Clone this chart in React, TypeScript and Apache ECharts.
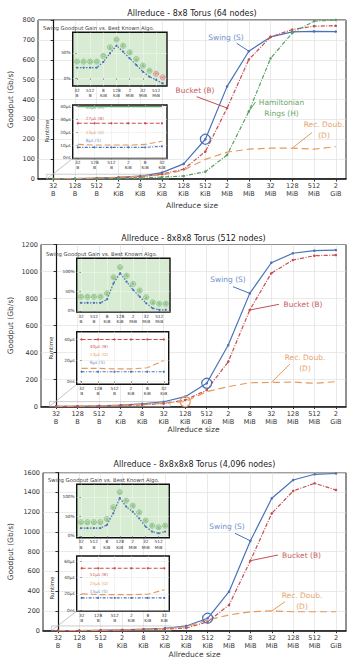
import React, { useEffect, useRef } from "react";
import * as echarts from "echarts";

const FONT = "DejaVu Sans";

// ---------- axis labels ----------
const sizeLabels = ["32\nB", "128\nB", "512\nB", "2\nKiB", "8\nKiB", "32\nKiB", "128\nKiB", "512\nKiB", "2\nMiB", "8\nMiB", "32\nMiB", "128\nMiB", "512\nMiB", "2\nGiB"];
const sizeTicks = sizeLabels.map((_, i) => i);
const gainLabels = ["32\nB", "512\nB", "8\nKiB", "128\nKiB", "2\nMiB", "32\nMiB", "512\nMiB"];
const gainTicks = [0, 2, 4, 6, 8, 10, 12];
const rtLabels = ["32\nB", "128\nB", "512\nB", "2\nKiB", "8\nKiB", "32\nKiB"];
const rtTicks = [0, 1, 2, 3, 4, 5];

const titles = [
  "Allreduce - 8x8 Torus (64 nodes)",
  "Allreduce - 8x8x8 Torus (512 nodes)",
  "Allreduce - 8x8x8x8 Torus (4,096 nodes)",
];

// ---------- 64 nodes ----------
const swing64 = [0.4, 1.5, 4, 8, 14, 32, 76, 200, 466, 643, 715, 740, 743, 742];
const bucket64 = [0.3, 1, 3, 6, 10, 25, 49, 138, 357, 601, 715, 752, 769, 771];
const hamilton64 = [0.1, 0.4, 1, 2, 4, 10, 15, 37, 121, 340, 607, 735, 794, 800];
const recdoub64 = [0.6, 2, 5, 9, 14, 20, 45, 99, 135, 150, 155, 155, 150, 163];
const gain64 = [21, 21, 21, 21, 32, 49, 64, 52, 39, 26, 13, 3, -3, -10];
const best64 = ["D", "D", "D", "D", "D", "B", "D", "B", "B", "B", "B", "H", "H", "H"];
const rtH64 = [40, 40, 40, 40, 40, 40];
const rtB64 = [27, 27, 27, 27, 27, 27];
const rtD64 = [10.5, 10, 10, 10, 10.5, 13];
const rtS64 = [8.2, 8.2, 8.2, 8.2, 8.2, 9];

// ---------- 512 nodes ----------
const swing512 = [0.5, 2, 5, 10, 20, 35, 73, 172, 455, 838, 1065, 1135, 1154, 1159];
const bucket512 = [0.3, 1, 3, 6, 12, 22, 48, 122, 332, 715, 987, 1085, 1117, 1122];
const recdoub512 = [0.6, 2, 5, 9, 16, 25, 36, 110, 147, 176, 178, 181, 172, 184];
const gain512 = [21, 21, 21, 21, 30, 71, 97, 75, 54, 37, 20, 7, 3, 3];
const best512 = ["D", "D", "D", "D", "B", "B", "D", "B", "B", "B", "B", "B", "B", "B"];
const rtB512 = [40, 40, 40, 40, 40, 40];
const rtD512 = [12.5, 12.5, 12, 12, 13, 20];
const rtS512 = [9.3, 9.3, 9.3, 9.3, 9.3, 9.3];

// ---------- 4096 nodes ----------
const swing4096 = [0.3, 1, 4, 8, 15, 25, 48, 126, 395, 910, 1341, 1526, 1584, 1592];
const bucket4096 = [0.2, 0.7, 2.5, 5, 9, 16, 27, 91, 260, 709, 1189, 1415, 1493, 1425];
const recdoub4096 = [0.4, 1.5, 4, 8, 13, 22, 40, 108, 159, 192, 200, 192, 192, 192];
const gain4096 = [20, 20, 20, 20, 28, 58, 97, 75, 62, 45, 24, 11, 7, 11];
const best4096 = ["D", "D", "D", "D", "B", "B", "D", "B", "B", "B", "B", "B", "B", "B"];
const rtB4096 = [51.5, 51.5, 51.5, 51.5, 51.5, 51.5];
const rtD4096 = [20, 19, 19, 19, 19.5, 25];
const rtS4096 = [15, 15, 15, 15, 15, 15];

const C = {
  s: "#4a72b8",
  b: "#c44e52",
  h: "#55a060",
  d: "#e39a5c",
  sT: "#6f8fcc",
  bT: "#c8605f",
  hT: "#6aa86a",
  dT: "#e6a46a",
};

type LineDef = { name: string; data: number[]; color: string; dash: any; symbol: boolean };

const panels = [
  {
    main: { left: 38, top: 20, width: 308, height: 159 },
    ymax: 800, yint: 100,
    upper: { left: 72.7, top: 32.3, width: 94.3, height: 53.7 },
    gmin: -15, gmax: 90, gyTicks: [0, 50],
    lower: { left: 72.7, top: 105, width: 94.3, height: 53.5 },
    rmin: -0.5, rmax: 41.3, ryTicks: [0, 10, 20, 30, 40],
    lines: [
      { name: "S", data: swing64, color: C.s, dash: "solid", symbol: true },
      { name: "B", data: bucket64, color: C.b, dash: [4, 1.5, 1, 1.5], symbol: true },
      { name: "H", data: hamilton64, color: C.h, dash: [4, 1.5, 1, 1.5], symbol: true },
      { name: "D", data: recdoub64, color: C.d, dash: [7, 4], symbol: false },
    ] as LineDef[],
    gain: gain64, best: best64,
    rt: [
      { name: "H", data: rtH64, color: C.h, dash: "solid", symbol: false },
      { name: "B", data: rtB64, color: C.b, dash: [4, 2], symbol: true },
      { name: "D", data: rtD64, color: C.d, dash: [6, 3], symbol: false },
      { name: "S", data: rtS64, color: C.s, dash: [3, 1.5, 1, 1.5], symbol: true },
    ] as LineDef[],
    rtTexts: [
      { t: "40µs (H)", c: C.hT, y: 107 },
      { t: "27µs (B)", c: C.bT, y: 118 },
      { t: "13µs (D)", c: C.dT, y: 132 },
      { t: "8µs (S)", c: C.sT, y: 140 },
    ],
    titleY: 13, xNameY: 205, gainTextY: 28, runtimeY: 131, runtimeX: 47,
    ann: [
      { t: "Swing (S)", c: C.sT, x: 226, y: 37.7, from: [236.7, 43.3], line: 0, idx: 9 },
      { t: "Bucket (B)", c: C.bT, x: 195, y: 90, from: [196.7, 96.7], line: 1, idx: 8 },
      { t: "Hamiltonian\nRings (H)", c: C.hT, x: 281.5, y: 107.7, from: [255.5, 102], line: 2, idx: 9 },
      { t: "Rec. Doub.\n(D)", c: C.dT, x: 324, y: 130, from: [312, 132.5], line: 3, idx: 11 },
    ],
    circles: [{ line: 0, idx: 7, color: C.s }],
  },
  {
    main: { left: 41, top: 244.5, width: 305, height: 162 },
    ymax: 1200, yint: 200,
    upper: { left: 76.7, top: 258.3, width: 93.3, height: 53.7 },
    gmin: -2.6, gmax: 135, gyTicks: [0, 50, 100],
    lower: { left: 76.7, top: 331.7, width: 92, height: 52.6 },
    rmin: -2.7, rmax: 47.4, ryTicks: [0, 20, 40],
    lines: [
      { name: "S", data: swing512, color: C.s, dash: "solid", symbol: true },
      { name: "B", data: bucket512, color: C.b, dash: [4, 1.5, 1, 1.5], symbol: true },
      { name: "D", data: recdoub512, color: C.d, dash: [7, 4], symbol: false },
    ] as LineDef[],
    gain: gain512, best: best512,
    rt: [
      { name: "B", data: rtB512, color: C.b, dash: [4, 2], symbol: true },
      { name: "D", data: rtD512, color: C.d, dash: [6, 3], symbol: false },
      { name: "S", data: rtS512, color: C.s, dash: [3, 1.5, 1, 1.5], symbol: true },
    ] as LineDef[],
    rtTexts: [
      { t: "40µs (B)", c: C.bT, y: 346 },
      { t: "13µs (D)", c: C.dT, y: 354.5 },
      { t: "9µs (S)", c: C.sT, y: 362.7 },
    ],
    titleY: 238, xNameY: 429, gainTextY: 254.3, runtimeY: 348, runtimeX: 50.7,
    ann: [
      { t: "Swing (S)", c: C.sT, x: 228, y: 279.3, from: [233, 286.7], line: 0, idx: 9 },
      { t: "Bucket (B)", c: C.bT, x: 303, y: 304.3, from: [279, 304.3], line: 1, idx: 9 },
      { t: "Rec. Doub.\n(D)", c: C.dT, x: 305, y: 363.3, from: [290, 364], line: 2, idx: 10 },
    ],
    circles: [
      { line: 0, idx: 7, color: C.s },
      { line: 2, idx: 6, color: C.d },
    ],
  },
  {
    main: { left: 43, top: 472.7, width: 303, height: 158 },
    ymax: 1600, yint: 200,
    upper: { left: 76.7, top: 484.3, width: 92.6, height: 53.4 },
    gmin: -4.4, gmax: 132, gyTicks: [0, 50, 100],
    lower: { left: 76.7, top: 556, width: 92.6, height: 55 },
    rmin: -1.2, rmax: 66.7, ryTicks: [0, 20, 40, 60],
    lines: [
      { name: "S", data: swing4096, color: C.s, dash: "solid", symbol: true },
      { name: "B", data: bucket4096, color: C.b, dash: [4, 1.5, 1, 1.5], symbol: true },
      { name: "D", data: recdoub4096, color: C.d, dash: [7, 4], symbol: false },
    ] as LineDef[],
    gain: gain4096, best: best4096,
    rt: [
      { name: "B", data: rtB4096, color: C.b, dash: [4, 2], symbol: true },
      { name: "D", data: rtD4096, color: C.d, dash: [6, 3], symbol: false },
      { name: "S", data: rtS4096, color: C.s, dash: [3, 1.5, 1, 1.5], symbol: true },
    ] as LineDef[],
    rtTexts: [
      { t: "51µs (B)", c: C.bT, y: 574.5 },
      { t: "25µs (D)", c: C.dT, y: 583.3 },
      { t: "15µs (S)", c: C.sT, y: 591.5 },
    ],
    titleY: 464, xNameY: 654, gainTextY: 480, runtimeY: 588, runtimeX: 51.7,
    ann: [
      { t: "Swing (S)", c: C.sT, x: 227, y: 526.7, from: [235, 533.3], line: 0, idx: 9 },
      { t: "Bucket (B)", c: C.bT, x: 301.5, y: 555, from: [278, 555], line: 1, idx: 9 },
      { t: "Rec. Doub.\n(D)", c: C.dT, x: 302, y: 601, from: [285, 601.7], line: 2, idx: 10 },
    ],
    circles: [{ line: 0, idx: 7, color: C.s }],
  },
];

function buildOption() {
  const grid: any[] = [];
  const xAxis: any[] = [];
  const yAxis: any[] = [];
  const series: any[] = [];
  const lab = (size: number) => ({ fontSize: size, color: "#333", fontFamily: FONT });

  panels.forEach((p, pi) => {
    const gM = pi * 3, gU = pi * 3 + 1, gL = pi * 3 + 2;
    grid.push({ ...p.main, show: true, backgroundColor: "#fff", borderColor: "#222", borderWidth: 1, z: 0 });
    grid.push({ ...p.upper, show: true, backgroundColor: "#d8ebd3", borderColor: "#111", borderWidth: 1.4, z: 3 });
    grid.push({ ...p.lower, show: true, backgroundColor: "#fff", borderColor: "#111", borderWidth: 1.4, z: 3 });

    // main axes
    xAxis.push({
      gridIndex: gM, type: "value", min: -0.7, max: 13.47,
      axisLine: { show: true, onZero: false, lineStyle: { color: "#111", width: 1.6 } },
      axisTick: { show: true, customValues: sizeTicks, length: 2.5, lineStyle: { color: "#333" } },
      axisLabel: { ...lab(6.5), customValues: sizeTicks, lineHeight: 8, margin: 3, formatter: (v: number) => sizeLabels[Math.round(v)] },
      splitLine: { show: true, lineStyle: { color: "#dcdcdc", width: 0.6 } },
    });
    yAxis.push({
      gridIndex: gM, type: "value", min: 0, max: p.ymax, interval: p.yint,
      axisLine: { show: true, lineStyle: { color: "#111", width: 1.2 } },
      axisTick: { show: true, length: 2.5, lineStyle: { color: "#333" } },
      axisLabel: { ...lab(6.5), margin: 3, formatter: (v: number) => String(v) },
      splitLine: { show: true, lineStyle: { color: "#dcdcdc", width: 0.6 } },
    });
    // upper inset axes
    xAxis.push({
      gridIndex: gU, type: "value", min: -0.65, max: 13.65, z: 3,
      axisLine: { show: false },
      axisTick: { show: true, customValues: gainTicks, length: 1.5, lineStyle: { color: "#333", width: 0.5 } },
      axisLabel: { ...lab(4.3), customValues: gainTicks, lineHeight: 5.3, margin: 1.5, formatter: (v: number) => gainLabels[Math.round(v / 2)] },
      splitLine: { show: true, lineStyle: { color: "rgba(255,255,255,0.75)", width: 0.5 } },
    });
    yAxis.push({
      gridIndex: gU, type: "value", min: p.gmin, max: p.gmax, z: 3,
      axisLine: { show: false },
      axisTick: { show: true, customValues: p.gyTicks, length: 1.5, lineStyle: { color: "#333", width: 0.5 } },
      axisLabel: { ...lab(4.3), customValues: p.gyTicks, margin: 2, formatter: (v: number) => `${v}%` },
      splitLine: { show: true, lineStyle: { color: "rgba(255,255,255,0.75)", width: 0.5 } },
    });
    // lower inset axes
    xAxis.push({
      gridIndex: gL, type: "value", min: -0.3, max: 5.3, z: 3,
      axisLine: { show: false },
      axisTick: { show: true, customValues: rtTicks, length: 1.5, lineStyle: { color: "#333", width: 0.5 } },
      axisLabel: { ...lab(4.3), customValues: rtTicks, lineHeight: 5.3, margin: 1.5, formatter: (v: number) => rtLabels[Math.round(v)] },
      splitLine: { show: true, lineStyle: { color: "#e6e6e6", width: 0.5 } },
    });
    yAxis.push({
      gridIndex: gL, type: "value", min: p.rmin, max: p.rmax, z: 3,
      axisLine: { show: false },
      axisTick: { show: true, customValues: p.ryTicks, length: 1.5, lineStyle: { color: "#333", width: 0.5 } },
      axisLabel: { ...lab(4.3), customValues: p.ryTicks, margin: 2, formatter: (v: number) => (v === 0 ? "0ns" : `${v}µs`) },
      splitLine: { show: true, lineStyle: { color: "#e6e6e6", width: 0.5 } },
    });

    // main series
    p.lines.forEach((l) => {
      series.push({
        type: "line", xAxisIndex: gM, yAxisIndex: gM, z: 2,
        data: l.data.map((v, i) => [i, v]),
        symbol: l.symbol ? "circle" : "none", symbolSize: 2.6,
        itemStyle: { color: l.color },
        lineStyle: { color: l.color, width: 1.2, type: l.dash },
      });
    });
    // gain series
    series.push({
      type: "line", xAxisIndex: gU, yAxisIndex: gU, z: 4,
      data: p.gain.map((v, i) => [i, v]),
      symbol: "circle", symbolSize: 2.2,
      itemStyle: { color: C.s },
      lineStyle: { color: C.s, width: 1.2, type: [1.5, 1.5] },
      markArea: {
        silent: true,
        itemStyle: { color: "#f6d2d6" },
        data: [[{ yAxis: p.gmin }, { yAxis: 0 }]],
      },
    });
    series.push({
      type: "scatter", xAxisIndex: gU, yAxisIndex: gU, z: 5,
      data: p.gain.map((v, i) => ({
        value: [i, v],
        itemStyle: { color: v < 0 ? "#f2b8b8" : "#b5dba9", borderColor: v < 0 ? C.b : C.h, borderWidth: 0.5 },
        label: { color: v < 0 ? C.b : "#3f8a45" },
      })),
      symbol: "circle", symbolSize: 5.2, symbolOffset: [0, -6],
      label: {
        show: true, position: "inside", fontSize: 3.8, fontFamily: FONT,
        formatter: (prm: any) => p.best[prm.dataIndex],
      },
    });
    // runtime series
    p.rt.forEach((l) => {
      series.push({
        type: "line", xAxisIndex: gL, yAxisIndex: gL, z: 4,
        data: l.data.map((v, i) => [i, v]),
        symbol: l.symbol ? "circle" : "none", symbolSize: 2.2,
        itemStyle: { color: l.color },
        lineStyle: { color: l.color, width: 1.1, type: l.dash },
      });
    });
  });

  return { animation: false, grid, xAxis, yAxis, series };
}

function buildGraphics(chart: any) {
  const g: any[] = [];
  const txt = (text: string, x: number, y: number, o: any = {}) => ({
    type: "text", x, y, z: 10,
    style: { text, fontFamily: FONT, fontSize: 7, fill: "#333", align: "center", verticalAlign: "middle", ...o },
  });
  panels.forEach((p, pi) => {
    const gM = pi * 3;
    const cx = p.main.left + p.main.width / 2;
    g.push(txt(titles[pi], cx, p.titleY, { fontSize: 8, fill: "#222" }));
    g.push(txt("Allreduce size", cx, p.xNameY, { fontSize: 7.5 }));
    g.push({ ...txt("Goodput (Gb/s)", 10, p.main.top + p.main.height / 2, { fontSize: 7.5 }), rotation: Math.PI / 2 });
    g.push(txt("Swing Goodput Gain vs. Best Known Algo.", p.main.left + 5, p.gainTextY, { fontSize: 5.3, align: "left", fill: "#444" }));
    g.push({ ...txt("Runtime", p.runtimeX, p.runtimeY, { fontSize: 5.5 }), rotation: Math.PI / 2 });
    p.rtTexts.forEach((r) => g.push(txt(r.t, p.lower.left + 13, r.y, { fontSize: 4.3, align: "left", fill: r.c })));

    // zoom indicator
    const a = chart.convertToPixel({ gridIndex: gM }, [-0.3, 0]);
    const b = chart.convertToPixel({ gridIndex: gM }, [5.3, p.ymax * 0.03]);
    g.push({ type: "rect", z: 1, shape: { x: a[0], y: b[1], width: b[0] - a[0], height: a[1] - b[1] }, style: { fill: "none", stroke: "#aaa", lineWidth: 0.6 } });
    g.push({ type: "line", z: 1, shape: { x1: a[0], y1: a[1], x2: p.lower.left, y2: p.lower.top + p.lower.height }, style: { stroke: "#aaa", lineWidth: 0.7 } });

    // annotations
    p.ann.forEach((an) => {
      const tgt = chart.convertToPixel({ gridIndex: gM }, [an.idx, p.lines[an.line].data[an.idx]]);
      g.push({ type: "line", z: 9, shape: { x1: an.from[0], y1: an.from[1], x2: tgt[0], y2: tgt[1] }, style: { stroke: p.lines[an.line].color, lineWidth: 1 } });
      g.push(txt(an.t, an.x, an.y, { fontSize: 7.5, fill: an.c, lineHeight: 10.7 }));
    });
    p.circles.forEach((c) => {
      const pt = chart.convertToPixel({ gridIndex: gM }, [c.idx, p.lines[c.line].data[c.idx]]);
      g.push({ type: "circle", z: 9, shape: { cx: pt[0], cy: pt[1], r: 5 }, style: { fill: "none", stroke: c.color, lineWidth: 1.2 } });
    });
  });
  return g;
}

export default function App() {
  const ref = useRef<HTMLDivElement>(null);
  useEffect(() => {
    document.body.style.margin = "0";
    const chart = echarts.init(ref.current!, null, { renderer: "svg" });
    chart.setOption(buildOption());
    chart.setOption({ graphic: buildGraphics(chart) });
    return () => chart.dispose();
  }, []);
  return <div ref={ref} style={{ width: 349, height: 659 }} />;
}
